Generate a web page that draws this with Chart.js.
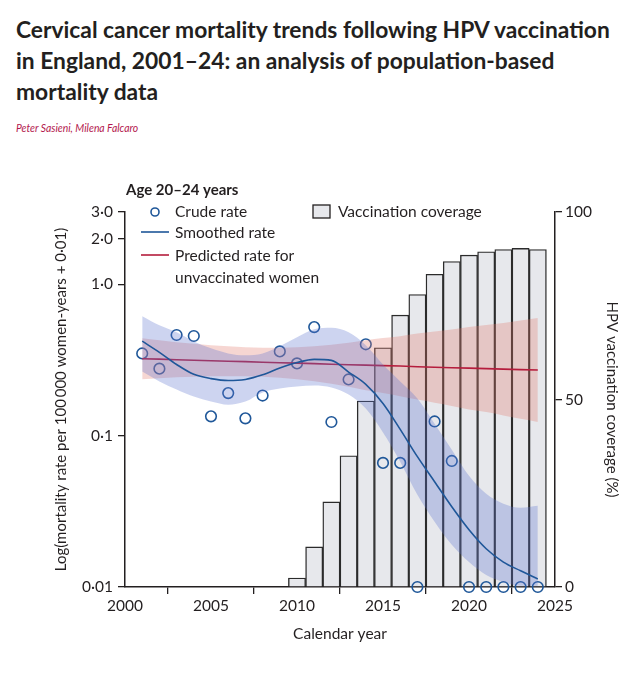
<!DOCTYPE html>
<html>
<head>
<meta charset="utf-8">
<script src="https://cdn.jsdelivr.net/npm/chart.js@4.4.1/dist/chart.umd.min.js"></script>
<style>
  body {
    margin: 0;
    width: 631px;
    height: 680px;
    background: #fff;
    position: relative;
    overflow: hidden;
    font-family: Lato, "Open Sans", sans-serif;
  }
  h1 {
    position: absolute;
    left: 16px;
    top: 14px;
    margin: 0;
    font: 700 22.8px/31px Lato, sans-serif;
    color: #231f20;
    white-space: nowrap;
  }
  .authors {
    position: absolute;
    left: 16px;
    top: 121px;
    font: italic 11.5px Lato, sans-serif;
    color: #b3174d;
    white-space: nowrap;
    transform-origin: left top;
    transform: scaleX(0.9);
  }
  #wrap {
    position: absolute;
    left: 0;
    top: 160px;
    width: 631px;
    height: 520px;
  }
</style>
</head>
<body>

<h1>Cervical cancer mortality trends following HPV vaccination<br>in England, 2001–24: an analysis of population-based<br>mortality data</h1>
<div class="authors">Peter Sasieni, Milena Falcaro</div>

<div id="wrap"><canvas id="mortalityChart"></canvas></div>

<script>

// values on the plotted scale (rate per 100 000 women-years + 0·01)
const years = [
    2001, 2002, 2003, 2004, 2005, 2006, 2007, 2008, 2009, 2010, 2011, 2012,
    2013, 2014, 2015, 2016, 2017, 2018, 2019, 2020, 2021, 2022, 2023, 2024
];

const crudeRate = [
    0.349, 0.277, 0.462, 0.455, 0.134, 0.191, 0.130, 0.184, 0.360, 0.300, 0.521, 0.123,
    0.235, 0.401, 0.066, 0.066, 0.010, 0.124, 0.068, 0.010, 0.010, 0.010, 0.010, 0.010
];

const smoothedRate = [
    0.421, 0.355, 0.295, 0.254, 0.238, 0.231, 0.235, 0.252, 0.280, 0.304, 0.319, 0.314,
    0.263, 0.218, 0.163, 0.110, 0.0726, 0.0496, 0.0339, 0.0239, 0.0179, 0.0146, 0.0128, 0.0113
];

const smoothedUpper = [
    0.614, 0.535, 0.481, 0.419, 0.377, 0.349, 0.339, 0.349, 0.389, 0.446, 0.504, 0.515,
    0.481, 0.395, 0.295, 0.228, 0.176, 0.120, 0.0808, 0.0543, 0.0413, 0.0355, 0.0334, 0.0344
];

const smoothedLower = [
    0.265, 0.228, 0.202, 0.181, 0.168, 0.160, 0.168, 0.193, 0.205, 0.211, 0.214, 0.208,
    0.187, 0.151, 0.105, 0.0673, 0.0407, 0.0270, 0.0190, 0.0146, 0.0120, 0.0108, 0.0102, 0.0102
];

const predictedRate = [
    0.322, 0.320, 0.317, 0.315, 0.312, 0.310, 0.308, 0.305, 0.303, 0.301, 0.299, 0.296,
    0.294, 0.292, 0.290, 0.288, 0.285, 0.283, 0.281, 0.279, 0.277, 0.275, 0.273, 0.271
];

const predictedUpper = [
    0.440, 0.427, 0.414, 0.405, 0.396, 0.390, 0.384, 0.381, 0.381, 0.384, 0.390, 0.399,
    0.411, 0.427, 0.441, 0.454, 0.472, 0.487, 0.502, 0.521, 0.537, 0.554, 0.576, 0.598
];

const predictedLower = [
    0.236, 0.239, 0.243, 0.245, 0.247, 0.247, 0.247, 0.245, 0.241, 0.236, 0.229, 0.220,
    0.210, 0.199, 0.191, 0.182, 0.173, 0.165, 0.157, 0.149, 0.143, 0.136, 0.129, 0.123
];

const coverageYears = [
    2010, 2011, 2012, 2013, 2014, 2015, 2016, 2017, 2018, 2019, 2020, 2021, 2022, 2023, 2024
];

const coverage = [
    2.4, 10.7, 22.7, 35.0, 49.6, 63.8, 72.5, 78.0, 83.4, 86.8, 88.5, 89.4, 90.0, 90.3, 90.0
];

const yearTicks = [2000, 2005, 2010, 2015, 2020, 2025];

const rateTicks = [0.01, 0.1, 1, 2, 3];

const rateTickLabels = ['0·01', '0·1', '1·0', '2·0', '3·0'];

const coverageTicks = [0, 50, 100];


const INK = '#231f20';
const BLUE = '#1f5799';
const RED = '#b51d3d';
const FONT = 'Lato, "Open Sans", sans-serif';

function pairs(xs, ys) {
    return xs.map((x, i) => ({ x: x, y: ys[i] }));
}

const panelLegend = {

    id: 'panelLegend',

    afterDraw(chart) {

        const ctx = chart.ctx;
        const top = -160;

        ctx.save();
        ctx.fillStyle = INK;
        ctx.textBaseline = 'middle';

        ctx.font = `700 15px ${FONT}`;
        ctx.fillText('Age 20–24 years', 126, top + 190);

        ctx.font = `15.5px ${FONT}`;

        ctx.beginPath();
        ctx.arc(155, top + 212, 4, 0, Math.PI * 2);
        ctx.strokeStyle = BLUE;
        ctx.lineWidth = 1.6;
        ctx.stroke();
        ctx.fillText('Crude rate', 175, top + 212);

        ctx.beginPath();
        ctx.moveTo(141, top + 232);
        ctx.lineTo(169, top + 232);
        ctx.strokeStyle = BLUE;
        ctx.stroke();
        ctx.fillText('Smoothed rate', 175, top + 233);

        ctx.beginPath();
        ctx.moveTo(141, top + 255);
        ctx.lineTo(169, top + 255);
        ctx.strokeStyle = RED;
        ctx.stroke();
        ctx.fillText('Predicted rate for', 175, top + 256);
        ctx.fillText('unvaccinated women', 175, top + 278);

        ctx.fillStyle = '#e7e8ec';
        ctx.fillRect(313, top + 205, 17, 13);
        ctx.strokeStyle = INK;
        ctx.lineWidth = 1.3;
        ctx.strokeRect(313, top + 205, 17, 13);
        ctx.fillStyle = INK;
        ctx.fillText('Vaccination coverage', 338, top + 212);

        ctx.restore();
    }

};

const axisGrid = {
    drawOnChartArea: false,
    drawTicks: true,
    tickLength: 7,
    color: INK,
    lineWidth: 1.3
};

const axisBorder = {
    display: true,
    color: INK,
    width: 1.5
};

const tickFont = {
    family: FONT,
    size: 15.5
};

new Chart(document.getElementById('mortalityChart'), {

    type: 'bar',

    data: {

        datasets: [

            {
                type: 'bar',
                label: 'Vaccination coverage',
                data: pairs(coverageYears, coverage),
                xAxisID: 'x',
                yAxisID: 'y2',
                backgroundColor: '#e7e8ec',
                borderColor: '#2b2b2b',
                borderWidth: 1.4,
                barPercentage: 1,
                categoryPercentage: 1,
                grouped: false,
                order: 6
            },

            {
                type: 'scatter',
                label: 'Crude rate',
                data: pairs(years, crudeRate),
                yAxisID: 'y',
                pointStyle: 'circle',
                pointRadius: 5.3,
                pointBorderWidth: 1.6,
                borderColor: BLUE,
                backgroundColor: 'rgba(0,0,0,0)',
                clip: false,
                order: 5
            },

            {
                type: 'line',
                label: 'Predicted lower',
                data: pairs(years, predictedLower),
                yAxisID: 'y',
                borderWidth: 0,
                pointRadius: 0,
                cubicInterpolationMode: 'monotone',
                fill: false,
                order: 4
            },

            {
                type: 'line',
                label: 'Predicted upper',
                data: pairs(years, predictedUpper),
                yAxisID: 'y',
                borderWidth: 0,
                pointRadius: 0,
                cubicInterpolationMode: 'monotone',
                backgroundColor: 'rgba(225, 120, 105, 0.3)',
                fill: 2,
                order: 4
            },

            {
                type: 'line',
                label: 'Predicted rate for unvaccinated women',
                data: pairs(years, predictedRate),
                yAxisID: 'y',
                borderColor: RED,
                borderWidth: 1.6,
                pointRadius: 0,
                fill: false,
                order: 3
            },

            {
                type: 'line',
                label: 'Smoothed lower',
                data: pairs(years, smoothedLower),
                yAxisID: 'y',
                borderWidth: 0,
                pointRadius: 0,
                cubicInterpolationMode: 'monotone',
                fill: false,
                order: 2
            },

            {
                type: 'line',
                label: 'Smoothed upper',
                data: pairs(years, smoothedUpper),
                yAxisID: 'y',
                borderWidth: 0,
                pointRadius: 0,
                cubicInterpolationMode: 'monotone',
                backgroundColor: 'rgba(95, 115, 205, 0.31)',
                fill: 5,
                order: 2
            },

            {
                type: 'line',
                label: 'Smoothed rate',
                data: pairs(years, smoothedRate),
                yAxisID: 'y',
                borderColor: BLUE,
                borderWidth: 1.6,
                pointRadius: 0,
                cubicInterpolationMode: 'monotone',
                fill: false,
                order: 1
            }

        ]

    },

    options: {

        responsive: true,

        maintainAspectRatio: false,

        animation: false,

        layout: {
            padding: { top: 52, left: 0, right: 0, bottom: 0 }
        },

        plugins: {
            legend: { display: false },
            tooltip: { enabled: false }
        },

        scales: {

            x: {
                type: 'linear',
                position: 'bottom',
                min: 2000,
                max: 2025,
                offset: false,
                grid: axisGrid,
                border: axisBorder,
                afterBuildTicks: axis => {
                    axis.ticks = yearTicks.map(v => ({ value: v }));
                },
                afterFit: axis => {
                    axis.height = 93;
                },
                ticks: {
                    color: INK,
                    font: tickFont,
                    padding: 3,
                    maxRotation: 0,
                    callback: value => String(value)
                },
                title: {
                    display: true,
                    text: 'Calendar year',
                    color: INK,
                    font: { family: FONT, size: 15.5 },
                    padding: { top: 0, bottom: 37 }
                }
            },

            y: {
                type: 'logarithmic',
                position: 'left',
                min: 0.01,
                max: 3,
                grid: axisGrid,
                border: axisBorder,
                afterBuildTicks: axis => {
                    axis.ticks = rateTicks.map(v => ({ value: v }));
                },
                afterFit: axis => {
                    axis.width = 125;
                },
                ticks: {
                    color: INK,
                    font: tickFont,
                    padding: 5,
                    callback: value => rateTickLabels[rateTicks.indexOf(value)]
                },
                title: {
                    display: true,
                    text: 'Log(mortality rate per 100\u2009000 women-years + 0·01)',
                    color: INK,
                    font: { family: FONT, size: 15 },
                    padding: { top: 52, bottom: 0 }
                }
            },

            y2: {
                type: 'linear',
                position: 'right',
                min: 0,
                max: 100,
                grid: axisGrid,
                border: axisBorder,
                afterBuildTicks: axis => {
                    axis.ticks = coverageTicks.map(v => ({ value: v }));
                },
                afterFit: axis => {
                    axis.width = 76;
                },
                ticks: {
                    color: INK,
                    font: tickFont,
                    padding: 3
                },
                title: {
                    display: true,
                    text: 'HPV vaccination coverage (%)',
                    color: INK,
                    font: { family: FONT, size: 15 },
                    padding: { top: 10, bottom: 0 }
                }
            }

        }

    },

    plugins: [panelLegend]

});

</script>
</body>
</html>
